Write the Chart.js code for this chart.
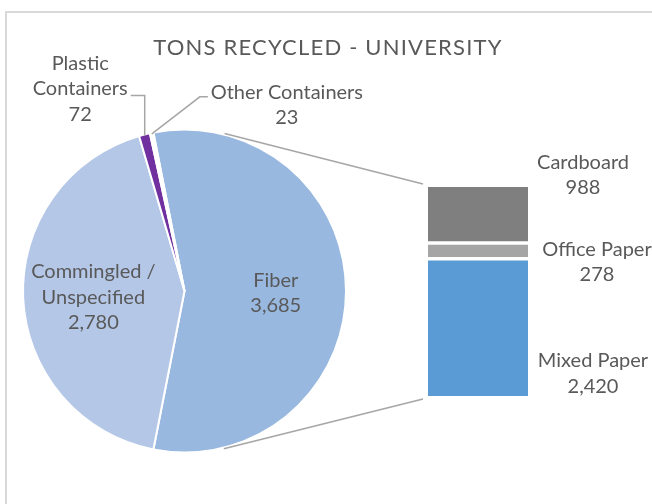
<!DOCTYPE html>
<html>
<head>
<meta charset="utf-8">
<script src="https://cdn.jsdelivr.net/npm/chart.js@4"></script>
<style>
  html, body { margin: 0; padding: 0; background: #fff; }
  #wrap { position: relative; width: 652px; height: 504px; overflow: hidden; }
  #frame { position: absolute; left: 5px; top: 11px; width: 700px; height: 600px;
           border: 2px solid #d9d9d9; box-sizing: border-box; }
  #pie { position: absolute; left: 0; top: 0; }
  #bar { position: absolute; left: 428px; top: 140px; }
</style>
</head>
<body>
<div id="wrap">
  <div id="frame"></div>
  <canvas id="bar" width="224" height="280"></canvas>
  <canvas id="pie" width="652" height="504"></canvas>
</div>
<script>
const titleText = 'TONS RECYCLED - UNIVERSITY';
const pieLabels = ['Fiber', 'Commingled /\nUnspecified', 'Plastic\nContainers', 'Other Containers'];
const pieValues = [3685, 2780, 72, 23];
const fiberLabels = ['Mixed Paper', 'Office Paper', 'Cardboard'];
const fiberValues = [2420, 278, 988];

const pieColors = ['#98b8e0', '#b4c7e7', '#7030a0', '#ffffff'];
const barColors = ['#5b9bd5', '#a5a5a5', '#7f7f7f'];
const textColor = '#595959';
const lineColor = '#a6a6a6';
const FONT = '20px Lato';
const LINE_H = 25.5;

const fmt = v => v.toLocaleString('en-US');
const sum = arr => arr.reduce((a, b) => a + b, 0);

function drawLines(ctx, lines, x, y) {
  const top = y - (lines.length - 1) * LINE_H / 2;
  lines.forEach((t, i) => ctx.fillText(t, x, top + i * LINE_H));
}

// label spots for the bar pieces, relative to right edge / middle of each piece
const barLabelShift = [[65, 46], [69, 11], [55, -40]];
const barBorders = [
  { top: 2, bottom: 0, left: 0, right: 0 },
  { top: 2, bottom: 2, left: 0, right: 0 },
  { top: 0, bottom: 2, left: 0, right: 0 }
];

const barLabels = {
  id: 'barLabels',
  afterDraw(chart) {
    const ctx = chart.ctx;
    ctx.save();
    ctx.font = FONT;
    ctx.fillStyle = textColor;
    ctx.textAlign = 'center';
    ctx.textBaseline = 'middle';
    chart.data.datasets.forEach((ds, i) => {
      const el = chart.getDatasetMeta(i).data[0];
      const x = el.x + el.width / 2 + barLabelShift[i][0];
      const y = (el.y + el.base) / 2 + barLabelShift[i][1];
      drawLines(ctx, [ds.label, fmt(ds.data[0])], x, y);
    });
    ctx.restore();
  }
};

const barCanvas = document.getElementById('bar');
const barChart = new Chart(barCanvas, {
  type: 'bar',
  data: {
    labels: ['Fiber'],
    datasets: fiberLabels.map((l, i) => ({
      label: l,
      data: [fiberValues[i]],
      backgroundColor: barColors[i],
      borderColor: '#ffffff',
      borderWidth: barBorders[i],
      borderSkipped: false,
      barPercentage: 1,
      categoryPercentage: 1
    }))
  },
  options: {
    responsive: false,
    animation: false,
    layout: { padding: { left: 0, right: 124, top: 47, bottom: 24 } },
    plugins: { legend: { display: false }, tooltip: { enabled: false } },
    scales: {
      x: { stacked: true, display: false },
      y: { stacked: true, display: false, min: 0, max: sum(fiberValues) }
    }
  },
  plugins: [barLabels]
});

// small slices get their label outside, with a leader line
const insideFactor = 0.565;
const outside = {
  2: { text: [-64.5, -46.5], path: [[0, -40], [-14, -40]] },
  3: { text: [135, -29], path: [[48, -37], [56, -37]] }
};

function tangentPoint(cx, cy, r, px, py, upper) {
  const dx = px - cx, dy = py - cy;
  const d = Math.hypot(dx, dy);
  const phi = Math.atan2(dy, dx), a = Math.acos(r / d);
  const t = upper ? phi - a : phi + a;
  return [cx + r * Math.cos(t), cy + r * Math.sin(t)];
}

const pieExtras = {
  id: 'pieExtras',
  afterDraw(chart) {
    const ctx = chart.ctx;
    const arcs = chart.getDatasetMeta(0).data;
    ctx.save();

    // title
    ctx.fillStyle = textColor;
    ctx.font = '22px Lato';
    ctx.letterSpacing = '1.2px';
    ctx.textAlign = 'center';
    ctx.textBaseline = 'middle';
    ctx.fillText(titleText, 328, 48);
    ctx.letterSpacing = '0px';

    // lines from the fiber slice to the bar
    const a0 = arcs[0];
    const R = a0.outerRadius + 1;
    const top = barChart.getDatasetMeta(2).data[0];
    const bot = barChart.getDatasetMeta(0).data[0];
    const ox = barCanvas.offsetLeft, oy = barCanvas.offsetTop;
    const p1 = [ox + top.x - top.width / 2 - 5, oy + top.y - 3];
    const p2 = [ox + bot.x - bot.width / 2 - 5, oy + bot.base + 3];
    const t1 = tangentPoint(a0.x, a0.y, R, p1[0], p1[1], true);
    const t2 = tangentPoint(a0.x, a0.y, R, p2[0], p2[1], false);
    ctx.strokeStyle = lineColor;
    ctx.lineWidth = 1.5;
    ctx.beginPath();
    ctx.moveTo(t1[0], t1[1]); ctx.lineTo(p1[0], p1[1]);
    ctx.moveTo(t2[0], t2[1]); ctx.lineTo(p2[0], p2[1]);
    ctx.stroke();

    // data labels
    ctx.font = FONT;
    arcs.forEach((arc, i) => {
      const mid = (arc.startAngle + arc.endAngle) / 2;
      const lines = pieLabels[i].split('\n').concat(fmt(pieValues[i]));
      if (outside[i]) {
        const o = outside[i];
        const ax = arc.x + Math.cos(mid) * (arc.outerRadius - 1);
        const ay = arc.y + Math.sin(mid) * (arc.outerRadius - 1);
        ctx.beginPath();
        ctx.moveTo(ax, ay);
        o.path.forEach(p => ctx.lineTo(ax + p[0], ay + p[1]));
        ctx.stroke();
        drawLines(ctx, lines, ax + o.text[0], ay + o.text[1]);
      } else {
        const r = arc.outerRadius * insideFactor;
        drawLines(ctx, lines, arc.x + Math.cos(mid) * r, arc.y + Math.sin(mid) * r + 2);
      }
    });
    ctx.restore();
  }
};

const total = sum(pieValues);
new Chart(document.getElementById('pie'), {
  type: 'pie',
  data: {
    labels: pieLabels,
    datasets: [{
      data: pieValues,
      backgroundColor: pieColors,
      borderColor: '#ffffff',
      borderWidth: 2
    }]
  },
  options: {
    responsive: false,
    animation: false,
    // fiber slice is centred on the right-hand side, facing the bar
    rotation: 90 - 180 * pieValues[0] / total,
    layout: { padding: { left: 22, right: 305, top: 128, bottom: 50 } },
    plugins: { legend: { display: false }, tooltip: { enabled: false } }
  },
  plugins: [pieExtras]
});
</script>
</body>
</html>
